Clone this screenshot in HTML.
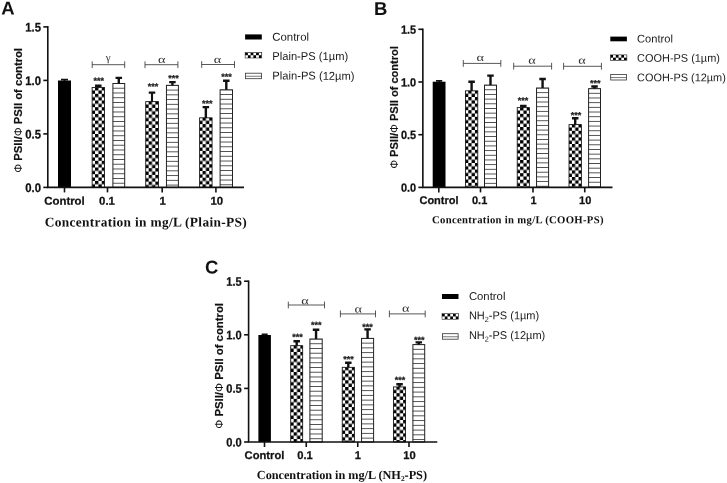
<!DOCTYPE html><html><head><meta charset="utf-8"><title>Figure</title><style>html,body{margin:0;padding:0;background:#fff}svg{display:block}</style></head><body>
<svg width="727" height="483" viewBox="0 0 727 483">
<rect width="727" height="483" fill="#fff"/>
<defs>
<pattern id="lchkA" x="245.1" y="52.5" width="5.5" height="5.5" patternUnits="userSpaceOnUse"><rect width="5.5" height="5.5" fill="#fff"/><rect width="2.75" height="2.75" fill="#000"/><rect x="2.75" y="2.75" width="2.75" height="2.75" fill="#000"/></pattern>
<pattern id="lchkB" x="610.3" y="54.9" width="5.5" height="5.5" patternUnits="userSpaceOnUse"><rect width="5.5" height="5.5" fill="#fff"/><rect width="2.75" height="2.75" fill="#000"/><rect x="2.75" y="2.75" width="2.75" height="2.75" fill="#000"/></pattern>
<pattern id="lchkC" x="442" y="313.7" width="5.5" height="5.5" patternUnits="userSpaceOnUse"><rect width="5.5" height="5.5" fill="#fff"/><rect width="2.75" height="2.75" fill="#000"/><rect x="2.75" y="2.75" width="2.75" height="2.75" fill="#000"/></pattern>
</defs>
<rect x="58" y="80.5" width="13.00" height="106.90" fill="#000"/>
<path d="M64.50 81.0V79.7M61.00 79.7H68.00" stroke="#111" stroke-width="1.7" fill="none"/>
<pattern id="kA1" x="95.05" y="87.10" width="6.7" height="6.7" patternUnits="userSpaceOnUse"><rect width="6.7" height="6.7" fill="#fff"/><rect width="3.35" height="3.35" fill="#000"/><rect x="3.35" y="3.35" width="3.35" height="3.35" fill="#000"/></pattern>
<rect x="92.12" y="87.52" width="12.35" height="99.88" fill="url(#kA1)" stroke="#111" stroke-width="0.85"/>
<path d="M98.30 87.6V85.8M95.05 85.8H101.55" stroke="#111" stroke-width="2.4" fill="none"/>
<text transform="translate(98.70 83.85) rotate(0.03)" text-anchor="middle" font-family='"Liberation Sans", Arial, sans-serif' font-size="9" fill="#222" stroke="#222" stroke-width="0.25" font-weight="bold">***</text>
<pattern id="sA2" x="0" y="83.00" width="20" height="4.75" patternUnits="userSpaceOnUse"><rect width="20" height="4.75" fill="#fff"/><rect width="20" height="0.9" fill="#444"/></pattern>
<rect x="112.90" y="83.50" width="11.80" height="103.90" fill="url(#sA2)" stroke="#222" stroke-width="1.0"/>
<path d="M118.80 83.5V77.9M115.55 77.9H122.05" stroke="#111" stroke-width="2.4" fill="none"/>
<pattern id="kA3" x="148.65" y="101.20" width="6.7" height="6.7" patternUnits="userSpaceOnUse"><rect width="6.7" height="6.7" fill="#fff"/><rect width="3.35" height="3.35" fill="#000"/><rect x="3.35" y="3.35" width="3.35" height="3.35" fill="#000"/></pattern>
<rect x="145.73" y="101.62" width="12.75" height="85.78" fill="url(#kA3)" stroke="#111" stroke-width="0.85"/>
<path d="M152.00 101.7V92.6M148.75 92.6H155.25" stroke="#111" stroke-width="2.1" fill="none"/>
<text transform="translate(153.00 89.55) rotate(0.03)" text-anchor="middle" font-family='"Liberation Sans", Arial, sans-serif' font-size="9" fill="#222" stroke="#222" stroke-width="0.25" font-weight="bold">***</text>
<pattern id="sA4" x="0" y="84.85" width="20" height="4.75" patternUnits="userSpaceOnUse"><rect width="20" height="4.75" fill="#fff"/><rect width="20" height="0.9" fill="#444"/></pattern>
<rect x="166.45" y="85.35" width="11.95" height="102.05" fill="url(#sA4)" stroke="#222" stroke-width="1.0"/>
<path d="M172.43 85.35V82.15M169.18 82.15H175.68" stroke="#111" stroke-width="2.4" fill="none"/>
<text transform="translate(173.40 81.30) rotate(0.03)" text-anchor="middle" font-family='"Liberation Sans", Arial, sans-serif' font-size="9" fill="#222" stroke="#222" stroke-width="0.25" font-weight="bold">***</text>
<pattern id="kA5" x="202.55" y="117.40" width="6.7" height="6.7" patternUnits="userSpaceOnUse"><rect width="6.7" height="6.7" fill="#fff"/><rect width="3.35" height="3.35" fill="#000"/><rect x="3.35" y="3.35" width="3.35" height="3.35" fill="#000"/></pattern>
<rect x="199.62" y="117.83" width="12.45" height="69.58" fill="url(#kA5)" stroke="#111" stroke-width="0.85"/>
<path d="M205.85 117.9V107.1M202.60 107.1H209.10" stroke="#111" stroke-width="2.4" fill="none"/>
<text transform="translate(207.20 106.40) rotate(0.03)" text-anchor="middle" font-family='"Liberation Sans", Arial, sans-serif' font-size="9" fill="#222" stroke="#222" stroke-width="0.25" font-weight="bold">***</text>
<pattern id="sA6" x="0" y="89.30" width="20" height="4.75" patternUnits="userSpaceOnUse"><rect width="20" height="4.75" fill="#fff"/><rect width="20" height="0.9" fill="#444"/></pattern>
<rect x="220.10" y="89.80" width="12.40" height="97.60" fill="url(#sA6)" stroke="#222" stroke-width="1.0"/>
<path d="M226.30 89.8V80.7M223.05 80.7H229.55" stroke="#111" stroke-width="2.4" fill="none"/>
<text transform="translate(226.50 79.80) rotate(0.03)" text-anchor="middle" font-family='"Liberation Sans", Arial, sans-serif' font-size="9" fill="#222" stroke="#222" stroke-width="0.25" font-weight="bold">***</text>
<path d="M47.8 26.100000000000005V187.4M47.0 187.4H244" stroke="#111" stroke-width="1.6" fill="none"/>
<path d="M43.3 187.4H47.8" stroke="#111" stroke-width="1.6"/>
<text transform="translate(41.0 191.95) rotate(0.03) scale(0.91 1)" text-anchor="end" font-family='"Liberation Sans", Arial, sans-serif' font-weight="bold" font-size="12.43" fill="#111" stroke="#111" stroke-width="0.25">0.0</text>
<path d="M43.3 133.9H47.8" stroke="#111" stroke-width="1.6"/>
<text transform="translate(41.0 138.45) rotate(0.03) scale(0.91 1)" text-anchor="end" font-family='"Liberation Sans", Arial, sans-serif' font-weight="bold" font-size="12.43" fill="#111" stroke="#111" stroke-width="0.25">0.5</text>
<path d="M43.3 80.4H47.8" stroke="#111" stroke-width="1.6"/>
<text transform="translate(41.0 84.95) rotate(0.03) scale(0.91 1)" text-anchor="end" font-family='"Liberation Sans", Arial, sans-serif' font-weight="bold" font-size="12.43" fill="#111" stroke="#111" stroke-width="0.25">1.0</text>
<path d="M43.3 26.900000000000006H47.8" stroke="#111" stroke-width="1.6"/>
<text transform="translate(41.0 31.45) rotate(0.03) scale(0.91 1)" text-anchor="end" font-family='"Liberation Sans", Arial, sans-serif' font-weight="bold" font-size="12.43" fill="#111" stroke="#111" stroke-width="0.25">1.5</text>
<path d="M64.5 187.4V192.4" stroke="#111" stroke-width="1.6"/>
<text transform="translate(64.5 204.7) rotate(0.03)" text-anchor="middle" font-family='"Liberation Sans", Arial, sans-serif' font-weight="bold" font-size="11.4" fill="#111" stroke="#111" stroke-width="0.25">Control</text>
<path d="M107.5 187.4V192.4" stroke="#111" stroke-width="1.6"/>
<text transform="translate(107.0 204.7) rotate(0.03)" text-anchor="middle" font-family='"Liberation Sans", Arial, sans-serif' font-weight="bold" font-size="11.4" fill="#111" stroke="#111" stroke-width="0.25">0.1</text>
<path d="M162.2 187.4V192.4" stroke="#111" stroke-width="1.6"/>
<text transform="translate(162.6 204.7) rotate(0.03)" text-anchor="middle" font-family='"Liberation Sans", Arial, sans-serif' font-weight="bold" font-size="11.4" fill="#111" stroke="#111" stroke-width="0.25">1</text>
<path d="M215.9 187.4V192.4" stroke="#111" stroke-width="1.6"/>
<text transform="translate(216.8 204.7) rotate(0.03)" text-anchor="middle" font-family='"Liberation Sans", Arial, sans-serif' font-weight="bold" font-size="11.4" fill="#111" stroke="#111" stroke-width="0.25">10</text>
<text transform="translate(21.8 110.4) rotate(-90) scale(1 0.9)" text-anchor="middle" font-family='"Liberation Sans", Arial, sans-serif' font-weight="bold" font-size="11.3" fill="#111" stroke="#111" stroke-width="0.2" textLength="124.8" lengthAdjust="spacingAndGlyphs"><tspan font-weight="normal" stroke="none">Φ</tspan> PSII/<tspan font-weight="normal" stroke="none">Φ</tspan> PSII of control</text>
<text transform="translate(44.7 226.5) rotate(0.03)" font-family='"Liberation Serif", "Times New Roman", serif' font-weight="bold" font-size="13.4" fill="#111" textLength="202" lengthAdjust="spacing">Concentration in mg/L (Plain-PS)</text>
<path d="M92.2 64.7H124.7M92.2 61.300000000000004V68.10000000000001M124.7 61.300000000000004V68.10000000000001" stroke="#3a3a3a" stroke-width="0.85" fill="none"/>
<text transform="translate(108.3 61.1) rotate(0.03) scale(1.0 1)" text-anchor="middle" font-family='"Liberation Serif", "Times New Roman", serif' font-size="11" fill="#333">γ</text>
<path d="M145.0 64.7H177.9M145.0 61.300000000000004V68.10000000000001M177.9 61.300000000000004V68.10000000000001" stroke="#3a3a3a" stroke-width="0.85" fill="none"/>
<text transform="translate(161.8 63.1) rotate(0.03) scale(1.3 1)" text-anchor="middle" font-family='"Liberation Serif", "Times New Roman", serif' font-size="11" fill="#333">α</text>
<path d="M201.7 64.5H234.5M201.7 61.1V67.9M234.5 61.1V67.9" stroke="#3a3a3a" stroke-width="0.85" fill="none"/>
<text transform="translate(217.5 63.1) rotate(0.03) scale(1.3 1)" text-anchor="middle" font-family='"Liberation Serif", "Times New Roman", serif' font-size="11" fill="#333">α</text>
<rect x="245.1" y="34.4" width="16.70" height="5.1" fill="#000"/>
<text transform="translate(272.3 40.70) rotate(0.03)" font-family='"Liberation Sans", Arial, sans-serif' font-size="11.4" fill="#1a1a1a" textLength="36.7" lengthAdjust="spacingAndGlyphs">Control</text>
<rect x="245.1" y="52.5" width="16.70" height="5.5" fill="url(#lchkA)" stroke="#111" stroke-width="0.5"/>
<text transform="translate(272.3 60.00) rotate(0.03)" font-family='"Liberation Sans", Arial, sans-serif' font-size="11.4" fill="#1a1a1a" textLength="75.9" lengthAdjust="spacingAndGlyphs">Plain-PS (1µm)</text>
<rect x="245.5" y="73.2" width="15.90" height="5.50" fill="#fff" stroke="#333" stroke-width="0.8"/>
<path d="M245.1 76.25H261.8" stroke="#555" stroke-width="0.8"/>
<text transform="translate(272.3 79.60) rotate(0.03)" font-family='"Liberation Sans", Arial, sans-serif' font-size="11.4" fill="#1a1a1a" textLength="82.25" lengthAdjust="spacingAndGlyphs">Plain-PS (12µm)</text>
<text transform="translate(1.3 14.5) rotate(0.03)" font-family='"Liberation Sans", Arial, sans-serif' font-weight="bold" font-size="18.5" fill="#111">A</text>
<rect x="432.7" y="81.7" width="12.80" height="105.70" fill="#000"/>
<path d="M439.10 82.2V80.9M436.00 80.9H442.20" stroke="#111" stroke-width="1.6" fill="none"/>
<pattern id="kB1" x="468.30" y="90.40" width="6.6" height="6.6" patternUnits="userSpaceOnUse"><rect width="6.6" height="6.6" fill="#fff"/><rect width="3.3" height="3.3" fill="#000"/><rect x="3.3" y="3.3" width="3.3" height="3.3" fill="#000"/></pattern>
<rect x="465.43" y="90.83" width="12.35" height="96.58" fill="url(#kB1)" stroke="#111" stroke-width="0.85"/>
<path d="M471.60 90.9V81.7M468.35 81.7H474.85" stroke="#111" stroke-width="2.4" fill="none"/>
<pattern id="sB2" x="0" y="84.60" width="20" height="4.68" patternUnits="userSpaceOnUse"><rect width="20" height="4.68" fill="#fff"/><rect width="20" height="0.9" fill="#444"/></pattern>
<rect x="484.50" y="85.10" width="12.00" height="102.30" fill="url(#sB2)" stroke="#222" stroke-width="1.0"/>
<path d="M490.50 85.1V75.6M487.25 75.6H493.75" stroke="#111" stroke-width="2.4" fill="none"/>
<pattern id="kB3" x="520.10" y="107.20" width="6.6" height="6.6" patternUnits="userSpaceOnUse"><rect width="6.6" height="6.6" fill="#fff"/><rect width="3.3" height="3.3" fill="#000"/><rect x="3.3" y="3.3" width="3.3" height="3.3" fill="#000"/></pattern>
<rect x="517.22" y="107.62" width="12.15" height="79.78" fill="url(#kB3)" stroke="#111" stroke-width="0.85"/>
<path d="M523.30 107.7V105.9M520.05 105.9H526.55" stroke="#111" stroke-width="2.4" fill="none"/>
<text transform="translate(523.00 103.40) rotate(0.03)" text-anchor="middle" font-family='"Liberation Sans", Arial, sans-serif' font-size="9" fill="#222" stroke="#222" stroke-width="0.25" font-weight="bold">***</text>
<pattern id="sB4" x="0" y="87.50" width="20" height="4.68" patternUnits="userSpaceOnUse"><rect width="20" height="4.68" fill="#fff"/><rect width="20" height="0.9" fill="#444"/></pattern>
<rect x="536.55" y="88.00" width="12.05" height="99.40" fill="url(#sB4)" stroke="#222" stroke-width="1.0"/>
<path d="M542.58 88.0V79.0M539.33 79.0H545.83" stroke="#111" stroke-width="2.4" fill="none"/>
<pattern id="kB5" x="571.90" y="124.20" width="6.6" height="6.6" patternUnits="userSpaceOnUse"><rect width="6.6" height="6.6" fill="#fff"/><rect width="3.3" height="3.3" fill="#000"/><rect x="3.3" y="3.3" width="3.3" height="3.3" fill="#000"/></pattern>
<rect x="569.02" y="124.62" width="12.35" height="62.78" fill="url(#kB5)" stroke="#111" stroke-width="0.85"/>
<path d="M575.20 124.7V118.3M571.95 118.3H578.45" stroke="#111" stroke-width="2.4" fill="none"/>
<text transform="translate(576.00 118.30) rotate(0.03)" text-anchor="middle" font-family='"Liberation Sans", Arial, sans-serif' font-size="9" fill="#222" stroke="#222" stroke-width="0.25" font-weight="bold">***</text>
<pattern id="sB6" x="0" y="88.15" width="20" height="4.68" patternUnits="userSpaceOnUse"><rect width="20" height="4.68" fill="#fff"/><rect width="20" height="0.9" fill="#444"/></pattern>
<rect x="588.60" y="88.65" width="11.90" height="98.75" fill="url(#sB6)" stroke="#222" stroke-width="1.0"/>
<path d="M594.55 88.65V86.5M591.30 86.5H597.80" stroke="#111" stroke-width="2.4" fill="none"/>
<text transform="translate(595.20 86.20) rotate(0.03)" text-anchor="middle" font-family='"Liberation Sans", Arial, sans-serif' font-size="9" fill="#222" stroke="#222" stroke-width="0.25" font-weight="bold">***</text>
<path d="M422.85 28.499999999999982V187.4M422.05 187.4H612.5" stroke="#111" stroke-width="1.6" fill="none"/>
<path d="M418.35 187.4H422.85" stroke="#111" stroke-width="1.6"/>
<text transform="translate(416.05 191.79) rotate(0.03) scale(0.91 1)" text-anchor="end" font-family='"Liberation Sans", Arial, sans-serif' font-weight="bold" font-size="11.99" fill="#111" stroke="#111" stroke-width="0.25">0.0</text>
<path d="M418.35 134.7H422.85" stroke="#111" stroke-width="1.6"/>
<text transform="translate(416.05 139.09) rotate(0.03) scale(0.91 1)" text-anchor="end" font-family='"Liberation Sans", Arial, sans-serif' font-weight="bold" font-size="11.99" fill="#111" stroke="#111" stroke-width="0.25">0.5</text>
<path d="M418.35 82.0H422.85" stroke="#111" stroke-width="1.6"/>
<text transform="translate(416.05 86.39) rotate(0.03) scale(0.91 1)" text-anchor="end" font-family='"Liberation Sans", Arial, sans-serif' font-weight="bold" font-size="11.99" fill="#111" stroke="#111" stroke-width="0.25">1.0</text>
<path d="M418.35 29.299999999999983H422.85" stroke="#111" stroke-width="1.6"/>
<text transform="translate(416.05 33.69) rotate(0.03) scale(0.91 1)" text-anchor="end" font-family='"Liberation Sans", Arial, sans-serif' font-weight="bold" font-size="11.99" fill="#111" stroke="#111" stroke-width="0.25">1.5</text>
<path d="M438.8 187.4V192.4" stroke="#111" stroke-width="1.6"/>
<text transform="translate(439.0 203.9) rotate(0.03)" text-anchor="middle" font-family='"Liberation Sans", Arial, sans-serif' font-weight="bold" font-size="11.0" fill="#111" stroke="#111" stroke-width="0.25">Control</text>
<path d="M480.5 187.4V192.4" stroke="#111" stroke-width="1.6"/>
<text transform="translate(479.6 203.9) rotate(0.03)" text-anchor="middle" font-family='"Liberation Sans", Arial, sans-serif' font-weight="bold" font-size="11.0" fill="#111" stroke="#111" stroke-width="0.25">0.1</text>
<path d="M533 187.4V192.4" stroke="#111" stroke-width="1.6"/>
<text transform="translate(533.6 203.9) rotate(0.03)" text-anchor="middle" font-family='"Liberation Sans", Arial, sans-serif' font-weight="bold" font-size="11.0" fill="#111" stroke="#111" stroke-width="0.25">1</text>
<path d="M584.75 187.4V192.4" stroke="#111" stroke-width="1.6"/>
<text transform="translate(585.2 203.9) rotate(0.03)" text-anchor="middle" font-family='"Liberation Sans", Arial, sans-serif' font-weight="bold" font-size="11.0" fill="#111" stroke="#111" stroke-width="0.25">10</text>
<text transform="translate(397.6 107.45) rotate(-90) scale(1 0.9)" text-anchor="middle" font-family='"Liberation Sans", Arial, sans-serif' font-weight="bold" font-size="11.3" fill="#111" stroke="#111" stroke-width="0.2" textLength="122.7" lengthAdjust="spacingAndGlyphs"><tspan font-weight="normal" stroke="none">Φ</tspan> PSII/<tspan font-weight="normal" stroke="none">Φ</tspan> PSII of control</text>
<text transform="translate(432.0 223.2) rotate(0.03)" font-family='"Liberation Serif", "Times New Roman", serif' font-weight="bold" font-size="10.7" fill="#111" textLength="171.5" lengthAdjust="spacing">Concentration in mg/L (COOH-PS)</text>
<path d="M463.3 63.4H500.8M463.3 60.0V66.8M500.8 60.0V66.8" stroke="#3a3a3a" stroke-width="0.85" fill="none"/>
<text transform="translate(480.3 60.9) rotate(0.03) scale(1.3 1)" text-anchor="middle" font-family='"Liberation Serif", "Times New Roman", serif' font-size="11" fill="#333">α</text>
<path d="M513.7 66.2H551.6M513.7 62.800000000000004V69.60000000000001M551.6 62.800000000000004V69.60000000000001" stroke="#3a3a3a" stroke-width="0.85" fill="none"/>
<text transform="translate(532.1 63.7) rotate(0.03) scale(1.3 1)" text-anchor="middle" font-family='"Liberation Serif", "Times New Roman", serif' font-size="11" fill="#333">α</text>
<path d="M563.6 66.3H601.4M563.6 62.9V69.7M601.4 62.9V69.7" stroke="#3a3a3a" stroke-width="0.85" fill="none"/>
<text transform="translate(582.1 63.7) rotate(0.03) scale(1.3 1)" text-anchor="middle" font-family='"Liberation Serif", "Times New Roman", serif' font-size="11" fill="#333">α</text>
<rect x="610.3" y="36.6" width="16.60" height="4.7" fill="#000"/>
<text transform="translate(637.1 42.60) rotate(0.03)" font-family='"Liberation Sans", Arial, sans-serif' font-size="11.1" fill="#1a1a1a" textLength="35.8" lengthAdjust="spacingAndGlyphs">Control</text>
<rect x="610.3" y="54.9" width="16.60" height="5.5" fill="url(#lchkB)" stroke="#111" stroke-width="0.5"/>
<text transform="translate(637.1 61.70) rotate(0.03)" font-family='"Liberation Sans", Arial, sans-serif' font-size="11.1" fill="#1a1a1a" textLength="82.8" lengthAdjust="spacingAndGlyphs">COOH-PS (1µm)</text>
<rect x="610.6999999999999" y="74.5" width="15.80" height="5.50" fill="#fff" stroke="#333" stroke-width="0.8"/>
<path d="M610.3 77.55H626.9" stroke="#555" stroke-width="0.8"/>
<text transform="translate(637.1 81.30) rotate(0.03)" font-family='"Liberation Sans", Arial, sans-serif' font-size="11.1" fill="#1a1a1a" textLength="88.7" lengthAdjust="spacingAndGlyphs">COOH-PS (12µm)</text>
<text transform="translate(374 15) rotate(0.03)" font-family='"Liberation Sans", Arial, sans-serif' font-weight="bold" font-size="18.5" fill="#111">B</text>
<rect x="258.4" y="335" width="12.50" height="107.00" fill="#000"/>
<path d="M264.65 335.5V334.2M261.65 334.2H267.65" stroke="#111" stroke-width="1.6" fill="none"/>
<pattern id="kC1" x="293.65" y="345.25" width="6.7" height="6.7" patternUnits="userSpaceOnUse"><rect width="6.7" height="6.7" fill="#fff"/><rect width="3.35" height="3.35" fill="#000"/><rect x="3.35" y="3.35" width="3.35" height="3.35" fill="#000"/></pattern>
<rect x="290.73" y="345.68" width="11.95" height="96.33" fill="url(#kC1)" stroke="#111" stroke-width="0.85"/>
<path d="M296.70 345.75V341.2M293.45 341.2H299.95" stroke="#111" stroke-width="2.4" fill="none"/>
<text transform="translate(297.50 340.10) rotate(0.03)" text-anchor="middle" font-family='"Liberation Sans", Arial, sans-serif' font-size="9" fill="#222" stroke="#222" stroke-width="0.25" font-weight="bold">***</text>
<pattern id="sC2" x="0" y="338.50" width="20" height="4.75" patternUnits="userSpaceOnUse"><rect width="20" height="4.75" fill="#fff"/><rect width="20" height="0.9" fill="#444"/></pattern>
<rect x="309.90" y="339.00" width="12.30" height="103.00" fill="url(#sC2)" stroke="#222" stroke-width="1.0"/>
<path d="M316.05 339.0V329.7M312.80 329.7H319.30" stroke="#111" stroke-width="2.4" fill="none"/>
<text transform="translate(316.20 328.00) rotate(0.03)" text-anchor="middle" font-family='"Liberation Sans", Arial, sans-serif' font-size="9" fill="#222" stroke="#222" stroke-width="0.25" font-weight="bold">***</text>
<pattern id="kC3" x="345.15" y="366.90" width="6.7" height="6.7" patternUnits="userSpaceOnUse"><rect width="6.7" height="6.7" fill="#fff"/><rect width="3.35" height="3.35" fill="#000"/><rect x="3.35" y="3.35" width="3.35" height="3.35" fill="#000"/></pattern>
<rect x="342.23" y="367.32" width="12.15" height="74.68" fill="url(#kC3)" stroke="#111" stroke-width="0.85"/>
<path d="M348.30 367.4V362.7M345.05 362.7H351.55" stroke="#111" stroke-width="2.4" fill="none"/>
<text transform="translate(348.50 362.20) rotate(0.03)" text-anchor="middle" font-family='"Liberation Sans", Arial, sans-serif' font-size="9" fill="#222" stroke="#222" stroke-width="0.25" font-weight="bold">***</text>
<pattern id="sC4" x="0" y="337.90" width="20" height="4.75" patternUnits="userSpaceOnUse"><rect width="20" height="4.75" fill="#fff"/><rect width="20" height="0.9" fill="#444"/></pattern>
<rect x="361.55" y="338.40" width="12.05" height="103.60" fill="url(#sC4)" stroke="#222" stroke-width="1.0"/>
<path d="M367.58 338.4V329.4M364.33 329.4H370.83" stroke="#111" stroke-width="2.4" fill="none"/>
<text transform="translate(367.60 330.10) rotate(0.03)" text-anchor="middle" font-family='"Liberation Sans", Arial, sans-serif' font-size="9" fill="#222" stroke="#222" stroke-width="0.25" font-weight="bold">***</text>
<pattern id="kC5" x="396.45" y="386.50" width="6.7" height="6.7" patternUnits="userSpaceOnUse"><rect width="6.7" height="6.7" fill="#fff"/><rect width="3.35" height="3.35" fill="#000"/><rect x="3.35" y="3.35" width="3.35" height="3.35" fill="#000"/></pattern>
<rect x="393.53" y="386.93" width="12.05" height="55.08" fill="url(#kC5)" stroke="#111" stroke-width="0.85"/>
<path d="M399.55 387.0V384.3M396.30 384.3H402.80" stroke="#111" stroke-width="2.4" fill="none"/>
<text transform="translate(400.00 383.00) rotate(0.03)" text-anchor="middle" font-family='"Liberation Sans", Arial, sans-serif' font-size="9" fill="#222" stroke="#222" stroke-width="0.25" font-weight="bold">***</text>
<pattern id="sC6" x="0" y="344.10" width="20" height="4.75" patternUnits="userSpaceOnUse"><rect width="20" height="4.75" fill="#fff"/><rect width="20" height="0.9" fill="#444"/></pattern>
<rect x="412.90" y="344.60" width="11.80" height="97.40" fill="url(#sC6)" stroke="#222" stroke-width="1.0"/>
<path d="M418.80 344.6V342.4M415.55 342.4H422.05" stroke="#111" stroke-width="2.4" fill="none"/>
<text transform="translate(419.20 343.00) rotate(0.03)" text-anchor="middle" font-family='"Liberation Sans", Arial, sans-serif' font-size="9" fill="#222" stroke="#222" stroke-width="0.25" font-weight="bold">***</text>
<path d="M248.6 280.4V442M247.79999999999998 442H437.3" stroke="#111" stroke-width="1.6" fill="none"/>
<path d="M244.1 442.0H248.6" stroke="#111" stroke-width="1.6"/>
<text transform="translate(241.79999999999998 446.47) rotate(0.03) scale(0.91 1)" text-anchor="end" font-family='"Liberation Sans", Arial, sans-serif' font-weight="bold" font-size="12.21" fill="#111" stroke="#111" stroke-width="0.25">0.0</text>
<path d="M244.1 388.4H248.6" stroke="#111" stroke-width="1.6"/>
<text transform="translate(241.79999999999998 392.87) rotate(0.03) scale(0.91 1)" text-anchor="end" font-family='"Liberation Sans", Arial, sans-serif' font-weight="bold" font-size="12.21" fill="#111" stroke="#111" stroke-width="0.25">0.5</text>
<path d="M244.1 334.8H248.6" stroke="#111" stroke-width="1.6"/>
<text transform="translate(241.79999999999998 339.27) rotate(0.03) scale(0.91 1)" text-anchor="end" font-family='"Liberation Sans", Arial, sans-serif' font-weight="bold" font-size="12.21" fill="#111" stroke="#111" stroke-width="0.25">1.0</text>
<path d="M244.1 281.2H248.6" stroke="#111" stroke-width="1.6"/>
<text transform="translate(241.79999999999998 285.67) rotate(0.03) scale(0.91 1)" text-anchor="end" font-family='"Liberation Sans", Arial, sans-serif' font-weight="bold" font-size="12.21" fill="#111" stroke="#111" stroke-width="0.25">1.5</text>
<path d="M264.5 442V447" stroke="#111" stroke-width="1.6"/>
<text transform="translate(264.5 459.0) rotate(0.03)" text-anchor="middle" font-family='"Liberation Sans", Arial, sans-serif' font-weight="bold" font-size="11.2" fill="#111" stroke="#111" stroke-width="0.25">Control</text>
<path d="M306.25 442V447" stroke="#111" stroke-width="1.6"/>
<text transform="translate(305.0 459.0) rotate(0.03)" text-anchor="middle" font-family='"Liberation Sans", Arial, sans-serif' font-weight="bold" font-size="11.2" fill="#111" stroke="#111" stroke-width="0.25">0.1</text>
<path d="M357.75 442V447" stroke="#111" stroke-width="1.6"/>
<text transform="translate(357.75 459.0) rotate(0.03)" text-anchor="middle" font-family='"Liberation Sans", Arial, sans-serif' font-weight="bold" font-size="11.2" fill="#111" stroke="#111" stroke-width="0.25">1</text>
<path d="M409 442V447" stroke="#111" stroke-width="1.6"/>
<text transform="translate(409.5 459.0) rotate(0.03)" text-anchor="middle" font-family='"Liberation Sans", Arial, sans-serif' font-weight="bold" font-size="11.2" fill="#111" stroke="#111" stroke-width="0.25">10</text>
<text transform="translate(222.6 365.9) rotate(-90) scale(1 0.9)" text-anchor="middle" font-family='"Liberation Sans", Arial, sans-serif' font-weight="bold" font-size="11.3" fill="#111" stroke="#111" stroke-width="0.2" textLength="125.8" lengthAdjust="spacingAndGlyphs"><tspan font-weight="normal" stroke="none">Φ</tspan> PSII/<tspan font-weight="normal" stroke="none">Φ</tspan> PSII of control</text>
<text transform="translate(256.8 479.0) rotate(0.03)" font-family='"Liberation Serif", "Times New Roman", serif' font-weight="bold" font-size="12.3" fill="#111" textLength="170.2" lengthAdjust="spacing">Concentration in mg/L (NH<tspan dy="2" font-size="7.5">2</tspan><tspan dy="-2">-PS)</tspan></text>
<path d="M288.3 305.0H324.5M288.3 301.6V308.4M324.5 301.6V308.4" stroke="#3a3a3a" stroke-width="0.85" fill="none"/>
<text transform="translate(304.9 304.3) rotate(0.03) scale(1.3 1)" text-anchor="middle" font-family='"Liberation Serif", "Times New Roman", serif' font-size="11" fill="#333">α</text>
<path d="M340.4 313.9H375.5M340.4 310.5V317.29999999999995M375.5 310.5V317.29999999999995" stroke="#3a3a3a" stroke-width="0.85" fill="none"/>
<text transform="translate(358.2 312.4) rotate(0.03) scale(1.3 1)" text-anchor="middle" font-family='"Liberation Serif", "Times New Roman", serif' font-size="11" fill="#333">α</text>
<path d="M389.4 313.9H425.2M389.4 310.5V317.29999999999995M425.2 310.5V317.29999999999995" stroke="#3a3a3a" stroke-width="0.85" fill="none"/>
<text transform="translate(405.8 311.8) rotate(0.03) scale(1.3 1)" text-anchor="middle" font-family='"Liberation Serif", "Times New Roman", serif' font-size="11" fill="#333">α</text>
<rect x="442" y="294.0" width="16.50" height="5.0" fill="#000"/>
<text transform="translate(468.9 300.10) rotate(0.03)" font-family='"Liberation Sans", Arial, sans-serif' font-size="11.3" fill="#1a1a1a" textLength="36.5" lengthAdjust="spacingAndGlyphs">Control</text>
<rect x="442" y="313.7" width="16.50" height="5.5" fill="url(#lchkC)" stroke="#111" stroke-width="0.5"/>
<text transform="translate(468.9 319.20) rotate(0.03)" font-family='"Liberation Sans", Arial, sans-serif' font-size="11.3" fill="#1a1a1a" textLength="70.3" lengthAdjust="spacingAndGlyphs">NH<tspan dy="2.8" font-size="7.5">2</tspan><tspan dy="-2.8">-PS (1µm)</tspan></text>
<rect x="442.4" y="333.7" width="15.70" height="5.50" fill="#fff" stroke="#333" stroke-width="0.8"/>
<path d="M442 336.75H458.5" stroke="#555" stroke-width="0.8"/>
<text transform="translate(468.9 339.00) rotate(0.03)" font-family='"Liberation Sans", Arial, sans-serif' font-size="11.3" fill="#1a1a1a" textLength="76.3" lengthAdjust="spacingAndGlyphs">NH<tspan dy="2.8" font-size="7.5">2</tspan><tspan dy="-2.8">-PS (12µm)</tspan></text>
<text transform="translate(205 273.5) rotate(0.03)" font-family='"Liberation Sans", Arial, sans-serif' font-weight="bold" font-size="18.5" fill="#111">C</text>
</svg></body></html>
